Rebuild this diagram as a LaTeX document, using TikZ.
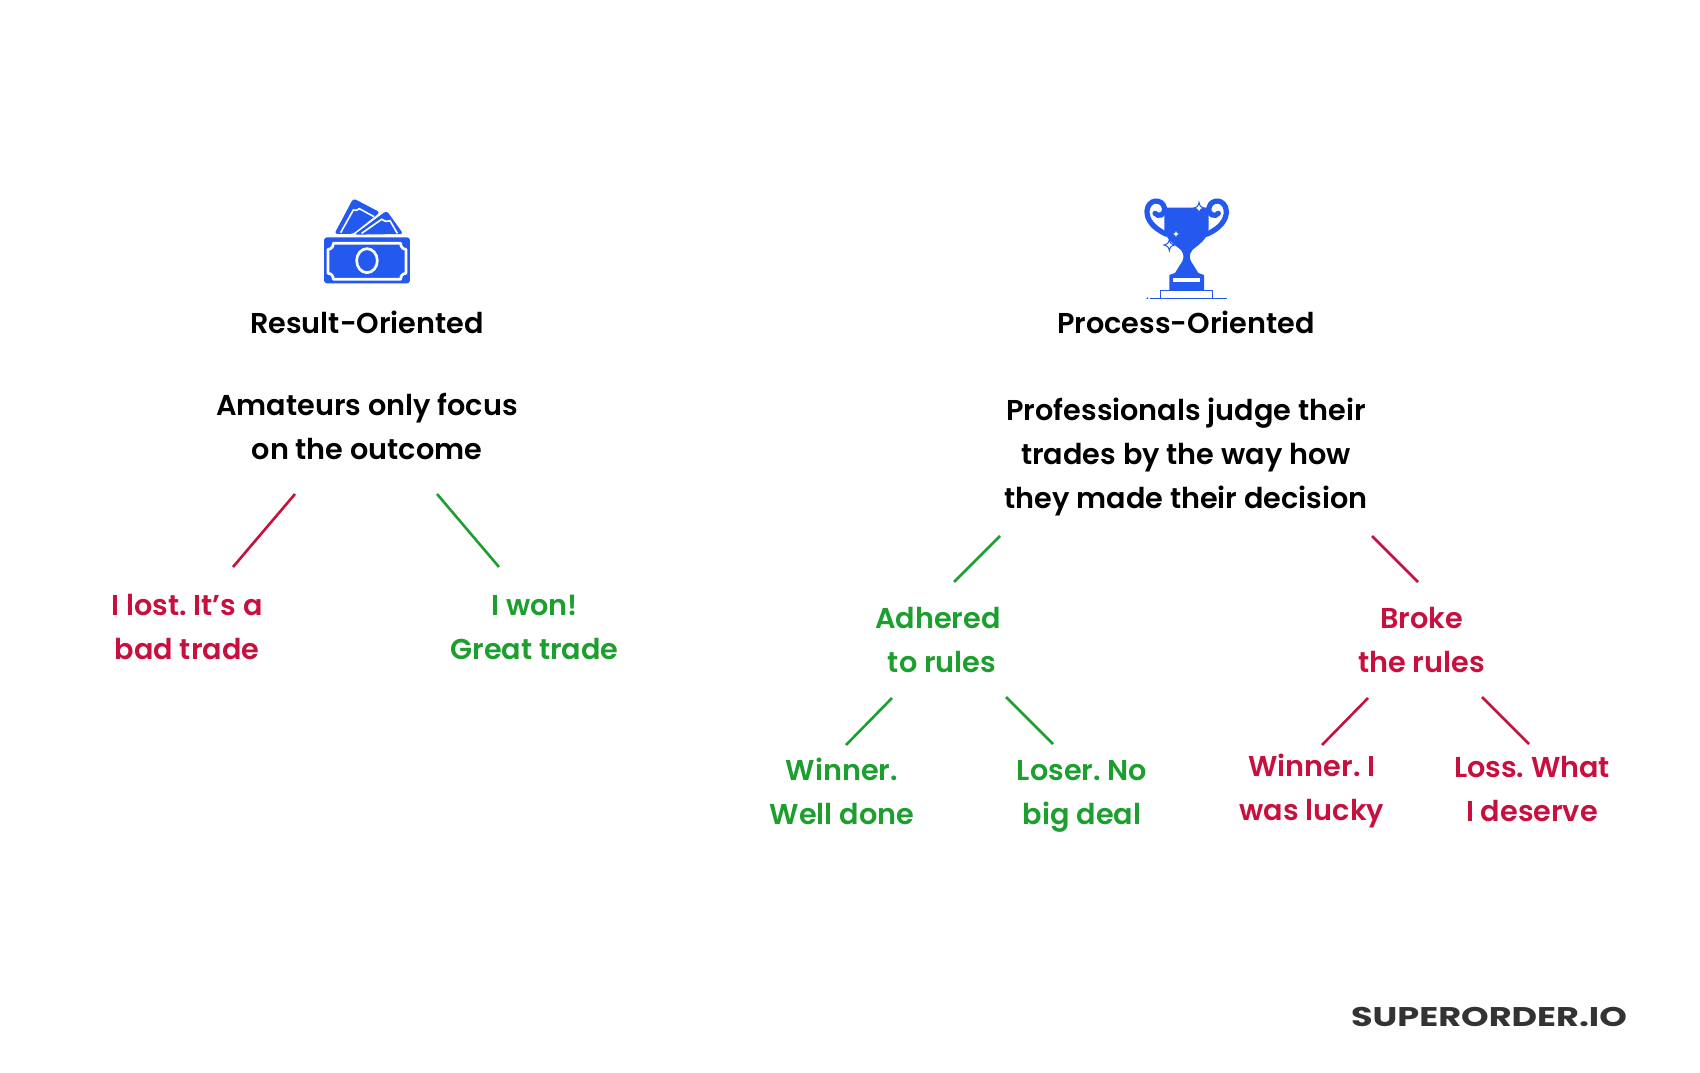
\documentclass[tikz,border=0pt]{standalone}
\usepackage{fontspec}
\setmainfont{Poppins SemiBold}
\newfontfamily\logofont{Poppins}[UprightFont={* Bold}]
\definecolor{iconblue}{HTML}{2459F0}
\definecolor{redtxt}{HTML}{C8103F}
\definecolor{greentxt}{HTML}{1C9F2E}
\definecolor{logogray}{HTML}{333333}
\tikzset{
 x=1pt,y=-1pt,
 lbl/.style={font=\fontsize{28.7}{44}\selectfont,align=center,inner sep=0pt,text=#1},
 lbl/.default=black,
 redline/.style={draw=redtxt,line width=2.6pt},
 greenline/.style={draw=greentxt,line width=2.6pt},
 iconfill/.style={fill=iconblue,draw=none},
 whiteline/.style={draw=white,line width=2.7pt,fill=none,line join=round},
}
\frenchspacing
\begin{document}
\begin{tikzpicture}
\useasboundingbox (0,0) rectangle (1700,1073);
\fill[white] (0,0) rectangle (1700,1073);
% money icon
\begin{scope}[shift={(300,180)},x=0.3333pt,y=-0.3333pt]
 \path[iconfill,rounded corners=3pt] (103,162) -- (160,55) -- (240,97) -- (158,162) -- cycle;
 \path[iconfill,rounded corners=3pt] (163,164) -- (260,92) -- (310,162) -- cycle;
 \draw[draw=white,line width=1.6pt] (122,158) -- (160,90) .. controls (168,92) and (172,92) .. (178,86) -- (222,110);
 \draw[draw=white,line width=1.6pt] (185,160) -- (245,118) .. controls (252,124) and (260,126) .. (270,122) -- (292,160);
 \path[iconfill,rounded corners=3pt] (72,172) rectangle (330,310);
 \draw[whiteline] (100,190) -- (302,190) .. controls (302,200) and (308,208) .. (318,208) -- (318,280) .. controls (308,280) and (302,288) .. (302,298) -- (100,298) .. controls (100,288) and (94,280) .. (84,280) -- (84,208) .. controls (94,208) and (100,200) .. (100,190) -- cycle;
 \draw[whiteline] (201,242) ellipse [x radius=31,y radius=36];
\end{scope}
% trophy icon
\begin{scope}[shift={(1130,185)},x=0.3333pt,y=-0.3333pt]
 \draw[iconblue,line width=5.2pt,line cap=round] (110,148) .. controls (70,130) and (50,105) .. (51,78) .. controls (54,40) and (97,40) .. (103,68) .. controls (107,90) and (85,98) .. (75,85);
 \draw[iconblue,line width=5.2pt,line cap=round] (230,148) .. controls (270,130) and (290,105) .. (289,78) .. controls (286,40) and (243,40) .. (237,68) .. controls (233,90) and (255,98) .. (265,85);
 \path[iconfill] (103,68) -- (236,68) -- (236,130) .. controls (236,160) and (205,180) .. (187,195) .. controls (175,210) and (178,225) .. (190,240) -- (205,264) -- (222,270) -- (222,318) -- (118,318) -- (118,270) -- (135,264) -- (150,240) .. controls (162,225) and (165,210) .. (153,195) .. controls (135,180) and (103,160) .. (103,130) -- cycle;
 \path[fill=white] (130,278) rectangle (210,292);
 \path[draw=iconblue,fill=white,line width=1.2pt] (92,317) rectangle (247,340);
 \draw[iconblue,line width=1.2pt] (60,340) -- (292,340);
 \fill[iconblue] (52,340) circle (1pt);
 \path[fill=white,draw=iconblue,line width=1pt] (207,52) .. controls (209,63) and (212,66) .. (222,69) .. controls (212,72) and (209,75) .. (207,86) .. controls (205,75) and (202,72) .. (192,69) .. controls (202,66) and (205,63) .. (207,52) -- cycle;
 \path[fill=white] (138,138) .. controls (139,144) and (141,146) .. (147,147) .. controls (141,148) and (139,150) .. (138,156) .. controls (137,150) and (135,148) .. (129,147) .. controls (135,146) and (137,144) .. (138,138) -- cycle;
 \path[fill=white,draw=iconblue,line width=1pt] (118,163) .. controls (120,174) and (123,177) .. (134,180) .. controls (123,183) and (120,186) .. (118,197) .. controls (116,186) and (113,183) .. (102,180) .. controls (113,177) and (116,174) .. (118,163) -- cycle;
\end{scope}
% text
\node[lbl] (result) at (367,322) {Result-Oriented};
\node[lbl] (amateurs) at (367,426) {Amateurs only focus\\on the outcome};
\node[lbl=redtxt] (lost) at (187,627) {I lost. It’s a\\bad trade};
\node[lbl=greentxt] (won) at (534.5,627) {I won!\\Great trade};
\node[lbl] (process) at (1186,322) {Process-Oriented};
\node[lbl] (pros) at (1186,457) {Professionals judge their\\trades by the way how\\they made their decision};
\node[lbl=greentxt] (adhered) at (938,640) {Adhered\\\hspace*{8pt}to rules};
\node[lbl=redtxt] (broke) at (1421.5,640) {Broke\\the rules};
\node[lbl=greentxt] (winner) at (842,791) {Winner.\\Well done};
\node[lbl=greentxt] (loser) at (1082,796) {Loser. No\\big deal};
\node[lbl=redtxt] (lucky) at (1312,791) {Winner. I\\was lucky};
\node[lbl=redtxt] (deserve) at (1532,789) {Loss. What\\I deserve};
\node[inner sep=0pt,text=logogray,xscale=1.3,font=\logofont\fontsize{27}{30}\selectfont] (logo) at (1489,1017) {SUPERORDER.IO};
% connector ends
\coordinate (a1) at (295,494); \coordinate (a2) at (233,567);
\coordinate (b1) at (437,494); \coordinate (b2) at (499,567);
\coordinate (c1) at (1000,536); \coordinate (c2) at (954,582);
\coordinate (d1) at (1372,536); \coordinate (d2) at (1418,582);
\coordinate (e1) at (892,698); \coordinate (e2) at (846,745);
\coordinate (f1) at (1006,697); \coordinate (f2) at (1053,744);
\coordinate (g1) at (1368,698); \coordinate (g2) at (1322,745);
\coordinate (h1) at (1482,697); \coordinate (h2) at (1529,744);
\draw[redline] (a1) -- (a2);
\draw[greenline] (b1) -- (b2);
\draw[greenline] (c1) -- (c2);
\draw[redline] (d1) -- (d2);
\draw[greenline] (e1) -- (e2);
\draw[greenline] (f1) -- (f2);
\draw[redline] (g1) -- (g2);
\draw[redline] (h1) -- (h2);
\end{tikzpicture}
\end{document}
